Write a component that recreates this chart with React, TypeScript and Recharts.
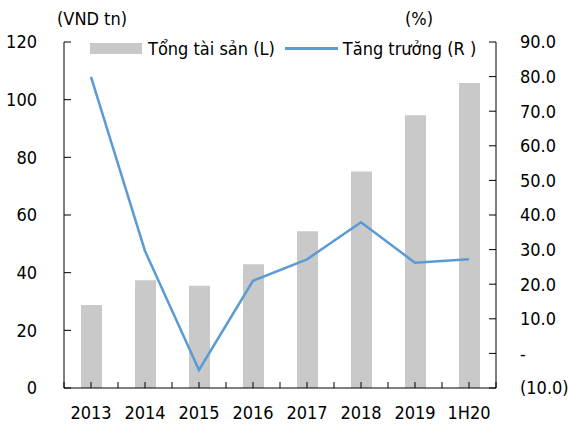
import React from 'react';
import { Bar, ComposedChart, Legend, Line, XAxis, YAxis } from 'recharts';

const periods = ['2013', '2014', '2015', '2016', '2017', '2018', '2019', '1H20'];
const totalAssets = [28.8, 37.4, 35.5, 42.9, 54.4, 75.1, 94.6, 105.8];
const growthPct = [79.9, 29.6, -4.8, 21.0, 27.2, 37.9, 26.2, 27.2];
const assetTicks = [0, 20, 40, 60, 80, 100, 120];
const growthTicks = [-10, 0, 10, 20, 30, 40, 50, 60, 70, 80, 90];

const data = periods.map((period, i) => ({
  period,
  assets: totalAssets[i],
  growth: growthPct[i],
}));

const FONT = "'DejaVu Sans Condensed', 'DejaVu Sans', sans-serif";
const FONT_SIZE = 18;
const INK = '#000000';
const BAR_FILL = '#c9c9c9';
const LINE_BLUE = '#5b9bd5';
const TICK_LEN = 7;
const HALF_BAND = 27;

const fmtGrowth = (v: number) => (v < 0 ? `(${Math.abs(v).toFixed(1)})` : v === 0 ? '-' : v.toFixed(1));

const LeftTick = (props: any) => {
  const { x, y, payload } = props;
  const axisX = x + 27;
  return (
    <g>
      <line x1={axisX} x2={axisX + TICK_LEN} y1={y} y2={y} stroke={INK} />
      <text x={x} y={y} dy="0.35em" textAnchor="end" fill={INK} fontSize={FONT_SIZE} fontFamily={FONT}>
        {payload.value}
      </text>
    </g>
  );
};

const RightTick = (props: any) => {
  const { x, y, payload } = props;
  const axisX = x - 24;
  return (
    <g>
      <line x1={axisX} x2={axisX - TICK_LEN} y1={y} y2={y} stroke={INK} />
      <text x={x} y={y} dy="0.35em" textAnchor="start" fill={INK} fontSize={FONT_SIZE} fontFamily={FONT}>
        {fmtGrowth(payload.value)}
      </text>
    </g>
  );
};

const BottomTick = (props: any) => {
  const { x, y, payload, index } = props;
  const axisY = y - 18;
  return (
    <g>
      <line x1={x} x2={x} y1={axisY} y2={axisY - 6} stroke={INK} />
      <line x1={x - HALF_BAND} x2={x - HALF_BAND} y1={axisY} y2={axisY - 6} stroke={INK} />
      {index === periods.length - 1 && (
        <line x1={x + HALF_BAND} x2={x + HALF_BAND} y1={axisY} y2={axisY - 6} stroke={INK} />
      )}
      <text x={x} y={y} dy="0.71em" textAnchor="middle" fill={INK} fontSize={FONT_SIZE} fontFamily={FONT}>
        {payload.value}
      </text>
    </g>
  );
};

const LegendContent = () => (
  <div style={{ display: 'flex', alignItems: 'center', fontFamily: FONT, fontSize: FONT_SIZE, color: INK, whiteSpace: 'nowrap' }}>
    <span style={{ display: 'inline-block', width: 52, height: 11, background: BAR_FILL, marginRight: 6 }} />
    <span>Tổng tài sản (L)</span>
    <span style={{ display: 'inline-block', width: 53, height: 0, borderTop: `3px solid ${LINE_BLUE}`, margin: '0 5px 0 10px' }} />
    <span>Tăng trưởng (R )</span>
  </div>
);

export default function App() {
  return (
    <div style={{ position: 'relative', width: 571, height: 424, background: '#fff' }}>
      <style>{'body{margin:0}'}</style>
      <div style={{ position: 'absolute', left: 57, top: 8, fontFamily: FONT, fontSize: FONT_SIZE, color: INK }}>(VND tn)</div>
      <div style={{ position: 'absolute', left: 405, top: 8, fontFamily: FONT, fontSize: FONT_SIZE, color: INK }}>(%)</div>
      <ComposedChart width={571} height={424} data={data} margin={{ top: 42, right: 0, bottom: 0, left: 0 }}>
        <XAxis
          dataKey="period"
          height={36}
          tickSize={0}
          tickMargin={18}
          tickLine={false}
          axisLine={{ stroke: INK }}
          tick={<BottomTick />}
          interval={0}
        />
        <YAxis
          yAxisId="left"
          width={64}
          domain={[0, 120]}
          ticks={assetTicks}
          tickSize={0}
          tickMargin={27}
          tickLine={false}
          axisLine={{ stroke: INK }}
          tick={<LeftTick />}
          interval={0}
        />
        <YAxis
          yAxisId="right"
          orientation="right"
          width={75}
          domain={[-10, 90]}
          ticks={growthTicks}
          tickSize={0}
          tickMargin={24}
          tickLine={false}
          axisLine={{ stroke: INK }}
          tick={<RightTick />}
          interval={0}
        />
        <Legend
          content={<LegendContent />}
          layout="horizontal"
          verticalAlign="middle"
          align="center"
          wrapperStyle={{ position: 'absolute', top: 38, left: 90, width: 'auto' }}
        />
        <Bar yAxisId="left" dataKey="assets" fill={BAR_FILL} barSize={21} isAnimationActive={false} />
        <Line
          yAxisId="right"
          dataKey="growth"
          stroke={LINE_BLUE}
          strokeWidth={2.5}
          dot={false}
          activeDot={false}
          isAnimationActive={false}
        />
      </ComposedChart>
    </div>
  );
}
